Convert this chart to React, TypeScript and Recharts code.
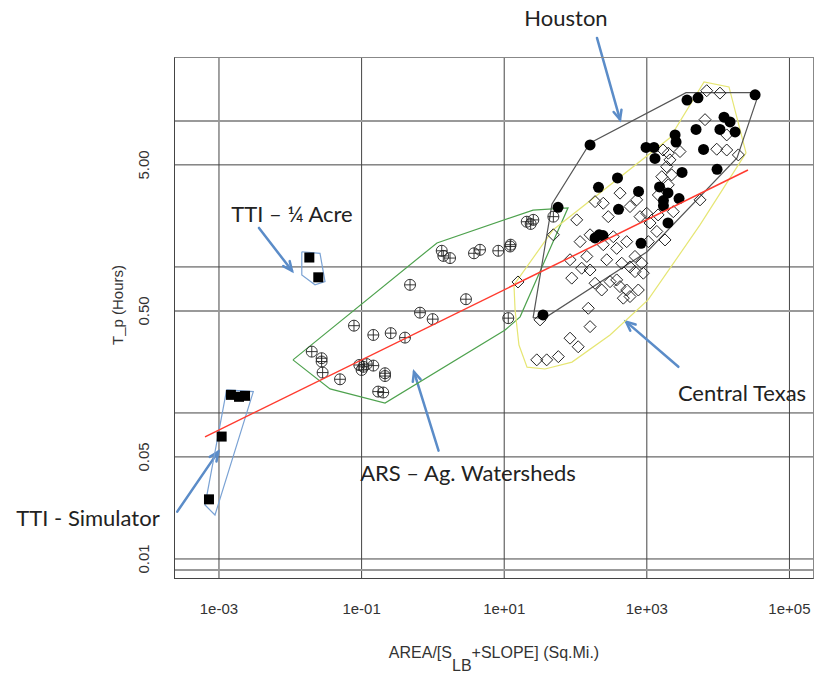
import React from "react"
import { ReferenceLine, Scatter, ScatterChart, XAxis, YAxis } from "recharts"

// Houston watersheds (filled circles)
const houstonArea = [33000, 3660, 5220, 160, 12100, 14700, 17300, 4900, 10600, 2490, 2570, 975, 1260, 1300, 6240, 9660, 3120, 388, 210, 765, 1510, 1980, 2830, 1710, 1710, 56.9, 401, 1980, 214, 243, 188, 830, 35.0]
const houstonTp = [15.1, 13.9, 14.4, 6.85, 10.6, 9.84, 8.41, 8.74, 8.74, 8.02, 7.17, 6.58, 6.58, 5.53, 6.38, 4.66, 4.44, 4.07, 3.51, 3.29, 3.53, 3.21, 2.94, 2.85, 2.62, 2.56, 2.48, 2.0, 1.66, 1.64, 1.58, 1.45, 0.469]

// Central Texas (open diamonds)
const centralArea = [6920, 10600, 6550, 13200, 9550, 13200, 19200, 2920, 2000, 1900, 2230, 1620, 2000, 1450, 2350, 5570, 421, 721, 581, 245, 188, 288, 997, 803, 104, 48.9, 116, 160, 245, 339, 522, 378, 682, 1050, 1380, 1800, 83.8, 144, 122, 160, 88.5, 274, 445, 581, 848, 682, 893, 188, 233, 305, 378, 421, 522, 760, 468, 581, 151, 160, 83.8, 109, 28.6, 39.4, 57.4, 31.8, 15.6, 1690, 2110, 1110, 1440]
const centralTp = [16.1, 15.5, 10.2, 8.02, 6.4, 6.32, 5.85, 6.17, 6.01, 4.86, 4.27, 4.15, 3.65, 3.11, 2.39, 2.88, 3.2, 2.88, 2.59, 2.73, 2.8, 2.21, 2.33, 2.21, 2.1, 1.66, 1.49, 1.66, 1.42, 1.61, 1.49, 1.34, 1.18, 1.49, 1.75, 1.53, 1.12, 1.18, 0.98, 0.953, 0.838, 1.12, 1.06, 1.0, 1.06, 0.929, 0.906, 0.773, 0.695, 0.793, 0.815, 0.733, 0.695, 0.695, 0.611, 0.627, 0.521, 0.39, 0.325, 0.284, 0.231, 0.231, 0.243, 0.434, 0.789, 6.32, 5.41, 2.0, 2.27]

// ARS ag. watersheds (circle with cross)
const arsArea = [0.02, 0.0275, 0.0275, 0.0284, 0.0498, 0.0782, 0.146, 0.256, 0.406, 0.478, 0.659, 0.993, 2.91, 0.0929, 0.106, 0.118, 0.146, 0.1, 0.213, 0.213, 0.171, 0.201, 1.33, 1.4, 1.74, 3.77, 4.58, 8.26, 12.1, 12.3, 20.7, 25.6, 23.5, 11.4, 48.9]
const arsTp = [0.263, 0.237, 0.225, 0.189, 0.17, 0.396, 0.342, 0.352, 0.328, 0.754, 0.486, 0.439, 0.601, 0.213, 0.207, 0.216, 0.211, 0.197, 0.187, 0.179, 0.14, 0.138, 1.29, 1.19, 1.15, 1.24, 1.31, 1.29, 1.38, 1.42, 2.04, 2.1, 1.97, 0.446, 2.21]

// TTI (filled squares)
const ttiAcreArea = [0.0185, 0.0247]
const ttiAcreTp = [1.16, 0.849]
const ttiSimArea = [0.00147, 0.00191, 0.00232, 0.00109, 0.000724]
const ttiSimTp = [0.133, 0.129, 0.131, 0.0689, 0.0256]

// group outlines
const houstonHullArea = [25.4, 46.8, 160, 3550, 37500, 18400, 1010, 37.3, 25.4]
const houstonHullTp = [0.448, 2.7, 7.06, 15.6, 15.6, 5.58, 1.27, 0.448, 0.448]
const centralHullArea = [13.7, 48.3, 2110, 6340, 14200, 24600, 5570, 1040, 305, 89.3, 37.3, 20.9, 16.1, 14.2, 13.7]
const centralHullTp = [0.754, 1.79, 7.66, 18.5, 17.1, 6.04, 1.94, 0.594, 0.342, 0.223, 0.2, 0.206, 0.292, 0.507, 0.754]
const arsHullArea = [0.0109, 1.14, 25.4, 78.5, 16.7, 10.3, 0.213, 0.0361, 0.0109]
const arsHullTp = [0.231, 1.46, 2.45, 2.54, 0.455, 0.37, 0.117, 0.146, 0.231]
const ttiAcreHullArea = [0.0145, 0.0261, 0.0307, 0.0222, 0.0145, 0.0145]
const ttiAcreHullTp = [1.27, 1.24, 0.793, 0.754, 0.881, 1.27]
const ttiSimHullArea = [0.00128, 0.00303, 0.000879, 0.000637, 0.00128]
const ttiSimHullTp = [0.144, 0.14, 0.02, 0.0234, 0.144]

// fitted line
const fitArea = [0.000637, 26200]
const fitTp = [0.0686, 4.61]

// axes
const xTicks = [0.001, 0.1, 10, 1000, 100000]
const xTickLabels = ["1e-03", "1e-01", "1e+01", "1e+03", "1e+05"]
const yTicks = [0.01, 0.05, 0.5, 5]
const yTickLabels = ["0.01", "0.05", "0.50", "5.00"]
const yGridDark = [0.01, 0.05, 0.1, 1, 5]
const yGridLight = [0.0084, 0.5, 10]

// arrows: [tailArea, tailTp, headArea, headTp]
const arrows = [
  [200, 37.0, 421, 10.2],
  [0.00364, 1.85, 0.01057, 0.94],
  [1.2, 0.0552, 0.543, 0.191],
  [2770, 0.207, 511, 0.422],
  [0.00026, 0.0211, 0.000977, 0.0543],
]

const annotations = [
  { text: "Houston", x: 566, y: 17 },
  { text: "TTI – ¼ Acre", x: 292, y: 213 },
  { text: "Central Texas", x: 742, y: 392 },
  { text: "ARS – Ag. Watersheds", x: 468, y: 472 },
  { text: "TTI - Simulator", x: 88, y: 517 },
]

const toPoints = (xs: number[], ys: number[]) => xs.map((x, i) => ({ x, y: ys[i] }))

const FilledCircle = (p: any) => <circle cx={p.cx} cy={p.cy} r={5.5} fill="#000" />

const OpenDiamond = (p: any) => {
  const s = 6
  return (
    <polygon
      points={`${p.cx},${p.cy - s} ${p.cx + s},${p.cy} ${p.cx},${p.cy + s} ${p.cx - s},${p.cy}`}
      fill="none"
      stroke="#222"
      strokeWidth={1}
    />
  )
}

const CrossCircle = (p: any) => {
  const r = 5.5
  return (
    <g stroke="#222" strokeWidth={0.9} fill="none">
      <circle cx={p.cx} cy={p.cy} r={r} />
      <line x1={p.cx - r} y1={p.cy} x2={p.cx + r} y2={p.cy} />
      <line x1={p.cx} y1={p.cy - r} x2={p.cx} y2={p.cy + r} />
    </g>
  )
}

const FilledSquare = (p: any) => <rect x={p.cx - 5} y={p.cy - 5} width={10} height={10} fill="#000" />

const NoPoint = () => null

const Arrow = (p: any) => {
  const { x1, y1, x2, y2 } = p
  const a = Math.atan2(y2 - y1, x2 - x1)
  const len = 10
  const spread = 0.42
  const hx1 = x2 - len * Math.cos(a - spread)
  const hy1 = y2 - len * Math.sin(a - spread)
  const hx2 = x2 - len * Math.cos(a + spread)
  const hy2 = y2 - len * Math.sin(a + spread)
  return (
    <g stroke="#5b8cc8" strokeWidth={2.5} fill="none" strokeLinecap="round">
      <line x1={x1} y1={y1} x2={x2} y2={y2} />
      <polyline points={`${hx1},${hy1} ${x2},${y2} ${hx2},${hy2}`} />
    </g>
  )
}

const XTick = (p: any) => {
  const i = xTicks.indexOf(p.payload.value)
  return (
    <text x={p.x} y={p.y + 27} textAnchor="middle" fontSize={15} fill="#333" fontFamily="Liberation Sans, Arial">
      {xTickLabels[i]}
    </text>
  )
}

const YTick = (p: any) => {
  const i = yTicks.indexOf(p.payload.value)
  const cx = 144
  return (
    <text
      x={cx}
      y={p.y}
      transform={`rotate(-90 ${cx} ${p.y})`}
      textAnchor="middle"
      dominantBaseline="central"
      fontSize={15}
      fill="#333"
      fontFamily="Liberation Sans, Arial"
    >
      {yTickLabels[i]}
    </text>
  )
}

export default function App() {
  const hull = (xs: number[], ys: number[], color: string, key: string) => (
    <Scatter
      key={key}
      data={toPoints(xs, ys)}
      line={{ stroke: color, strokeWidth: 1.2 }}
      lineType="joint"
      shape={NoPoint}
      isAnimationActive={false}
    />
  )

  return (
    <div style={{ position: "absolute", left: 0, top: 0, width: 827, height: 677, background: "#fff" }}>
      <ScatterChart width={827} height={677} margin={{ top: 57, right: 13, left: 0, bottom: 0 }}>
        <XAxis
          type="number"
          dataKey="x"
          scale="log"
          domain={[0.000234, 221000]}
          allowDataOverflow
          ticks={xTicks}
          interval={0}
          tick={XTick}
          tickLine={false}
          axisLine={false}
          height={98}
        />
        <YAxis
          type="number"
          dataKey="y"
          scale="log"
          domain={[0.00729, 27.4]}
          allowDataOverflow
          ticks={yTicks}
          interval={0}
          tick={YTick}
          tickLine={false}
          axisLine={false}
          width={174}
        />
        {xTicks.map((v) => (
          <ReferenceLine key={`gx${v}`} x={v} stroke="#444" strokeWidth={1} />
        ))}
        {yGridDark.map((v) => (
          <ReferenceLine key={`gd${v}`} y={v} stroke="#444" strokeWidth={1} />
        ))}
        {yGridLight.map((v) => (
          <ReferenceLine key={`gl${v}`} y={v} stroke="#999" strokeWidth={2} />
        ))}
        {hull(arsHullArea, arsHullTp, "#4ea24e", "arsHull")}
        {hull(centralHullArea, centralHullTp, "#e6e673", "centralHull")}
        {hull(houstonHullArea, houstonHullTp, "#555", "houstonHull")}
        {hull(ttiAcreHullArea, ttiAcreHullTp, "#7aa2d4", "acreHull")}
        {hull(ttiSimHullArea, ttiSimHullTp, "#7aa2d4", "simHull")}
        <Scatter data={toPoints(arsArea, arsTp)} shape={CrossCircle} isAnimationActive={false} />
        <Scatter data={toPoints(centralArea, centralTp)} shape={OpenDiamond} isAnimationActive={false} />
        <Scatter data={toPoints(houstonArea, houstonTp)} shape={FilledCircle} isAnimationActive={false} />
        <Scatter data={toPoints(ttiAcreArea, ttiAcreTp)} shape={FilledSquare} isAnimationActive={false} />
        <Scatter data={toPoints(ttiSimArea, ttiSimTp)} shape={FilledSquare} isAnimationActive={false} />
        <Scatter
          data={toPoints(fitArea, fitTp)}
          line={{ stroke: "#ff3b2f", strokeWidth: 1.5 }}
          lineType="joint"
          shape={NoPoint}
          isAnimationActive={false}
        />
        {arrows.map((a, i) => (
          <ReferenceLine
            key={`arrow${i}`}
            segment={[
              { x: a[0], y: a[1] },
              { x: a[2], y: a[3] },
            ]}
            ifOverflow="visible"
            shape={Arrow}
          />
        ))}
      </ScatterChart>

      {/* plot frame */}
      <div
        style={{
          position: "absolute",
          left: 174,
          top: 57,
          width: 640,
          height: 522,
          boxSizing: "border-box",
          borderLeft: "1px solid #444",
          borderBottom: "1.5px solid #444",
          borderTop: "1.5px solid #888",
          borderRight: "1.5px solid #888",
          pointerEvents: "none",
        }}
      />

      {annotations.map((a) => (
        <div
          key={a.text}
          style={{
            position: "absolute",
            left: a.x,
            top: a.y,
            transform: "translate(-50%, -50%)",
            fontFamily: "Lato, 'Open Sans', sans-serif",
            fontSize: 22,
            color: "#222",
            whiteSpace: "nowrap",
          }}
        >
          {a.text}
        </div>
      ))}

      <div
        style={{
          position: "absolute",
          left: 117,
          top: 305,
          transform: "translate(-50%, -50%) rotate(-90deg)",
          fontFamily: "Liberation Sans, Arial",
          fontSize: 15,
          color: "#333",
          whiteSpace: "nowrap",
        }}
      >
        T_p (Hours)
      </div>

      <div
        style={{
          position: "absolute",
          left: 494,
          top: 653,
          transform: "translate(-50%, -50%)",
          fontFamily: "Liberation Sans, Arial",
          fontSize: 16,
          color: "#333",
          whiteSpace: "nowrap",
        }}
      >
        AREA/[S<span style={{ position: "relative", top: 13, fontSize: 16 }}>LB</span>+SLOPE] (Sq.Mi.)
      </div>
    </div>
  )
}
